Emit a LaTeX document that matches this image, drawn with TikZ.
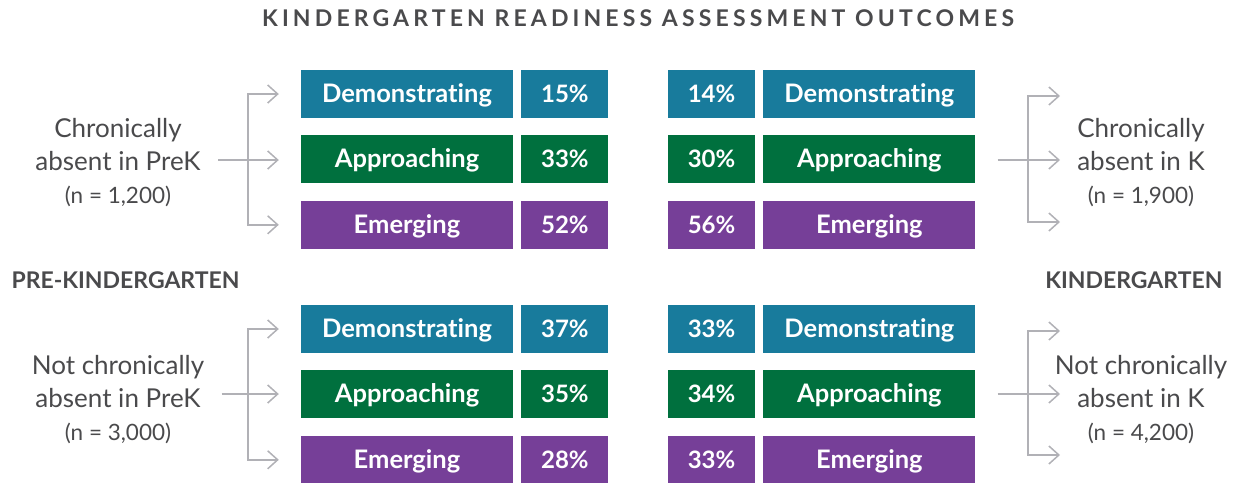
\documentclass[tikz,border=0pt]{standalone}
\usepackage{fontspec}
\setmainfont[Ligatures=NoCommon]{Lato}
\newfontfamily\spacedfont[LetterSpace=18]{Lato}
\usetikzlibrary{
        arrows.meta,
        positioning
    }
\definecolor{txtgrey}{HTML}{4A4A4C}
\definecolor{linegrey}{HTML}{B1B1B6}
\definecolor{demo}{HTML}{187B9C}
\definecolor{appr}{HTML}{00703E}
\definecolor{emer}{HTML}{763F98}
\newcommand{\nsize}{\fontsize{22.5}{33}\selectfont}
\tikzset{>={Straight Barb[length=10pt,width=18pt]}}
\tikzset{
    box/.style={minimum height=48pt, inner sep=0pt, text=white,
        text height=16.5pt, text depth=0pt},
    lbl/.style={box, minimum width=212pt, font=\fontsize{25.5}{25}\selectfont\bfseries},
    pct/.style={box, minimum width=87pt, font=\fontsize{24}{24}\selectfont\bfseries},
    group/.style={align=center, text=txtgrey,
        font=\fontsize{26}{33}\selectfont},
    side/.style={text=txtgrey, font=\fontsize{23}{23}\selectfont\bfseries},
    line/.style={draw=linegrey, line width=1.5pt},
    arr/.style={line, ->, shorten >=22pt}
}

\begin{document}
\begin{tikzpicture}[x=1pt,y=-1pt,node distance=17pt]
                \useasboundingbox (0,0) rectangle (1239,482);
                \node[text=txtgrey, font=\fontsize{23}{23}\selectfont\bfseries\spacedfont] (title) at (638,18)
                        {KINDERGARTEN READINESS ASSESSMENT OUTCOMES};
                % PreK, chronically absent
                \node[lbl, fill=demo] (pd1) at (407,94) {Demonstrating};
                \node[lbl, fill=appr] (pa1) [below=of pd1] {Approaching};
                \node[lbl, fill=emer] (pe1) [below=of pa1] {Emerging};
                \node[pct, fill=demo] (ppd1) [right=8pt of pd1] {15\%};
                \node[pct, fill=appr] (ppa1) [right=8pt of pa1] {33\%};
                \node[pct, fill=emer] (ppe1) [right=8pt of pe1] {52\%};
                % PreK, not chronically absent
                \node[lbl, fill=demo] (pd2) at (407,329) {Demonstrating};
                \node[lbl, fill=appr] (pa2) [below=of pd2] {Approaching};
                \node[lbl, fill=emer] (pe2) [below=of pa2] {Emerging};
                \node[pct, fill=demo] (ppd2) [right=8pt of pd2] {37\%};
                \node[pct, fill=appr] (ppa2) [right=8pt of pa2] {35\%};
                \node[pct, fill=emer] (ppe2) [right=8pt of pe2] {28\%};
                % K, chronically absent
                \node[pct, fill=demo] (kpd1) at (711.5,94) {14\%};
                \node[pct, fill=appr] (kpa1) [below=of kpd1] {30\%};
                \node[pct, fill=emer] (kpe1) [below=of kpa1] {56\%};
                \node[lbl, fill=demo] (kd1) [right=8pt of kpd1] {Demonstrating};
                \node[lbl, fill=appr] (ka1) [right=8pt of kpa1] {Approaching};
                \node[lbl, fill=emer] (ke1) [right=8pt of kpe1] {Emerging};
                % K, not chronically absent
                \node[pct, fill=demo] (kpd2) at (711.5,329) {33\%};
                \node[pct, fill=appr] (kpa2) [below=of kpd2] {34\%};
                \node[pct, fill=emer] (kpe2) [below=of kpa2] {33\%};
                \node[lbl, fill=demo] (kd2) [right=8pt of kpd2] {Demonstrating};
                \node[lbl, fill=appr] (ka2) [right=8pt of kpa2] {Approaching};
                \node[lbl, fill=emer] (ke2) [right=8pt of kpe2] {Emerging};
                % groups
                \node[group] (src1) at (118,163) {Chronically\\absent in PreK\\{\nsize(n = 1,200)}};
                \node[group] (src2) at (118,400) {Not chronically\\absent in PreK\\{\nsize(n = 3,000)}};
                \node[group] (dst1) at (1141,163) {Chronically\\absent in K\\{\nsize(n = 1,900)}};
                \node[group] (dst2) at (1141,400) {Not chronically\\absent in K\\{\nsize(n = 4,200)}};
                \node[side, anchor=west] (prek) at (8,280) {PRE-KINDERGARTEN};
                \node[side, anchor=east] (kind) at (1226,280) {KINDERGARTEN};
                % brackets
                \coordinate (jA) at (248,160);
                \coordinate (jC) at (248,394);
                \coordinate (jB) at (1028,160);
                \coordinate (jD) at (1028,394);
                \coordinate (tB1) at (1060,96);
                \coordinate (tB2) at (1060,160);
                \coordinate (tB3) at (1060,222);
                \coordinate (tD1) at (1060,331);
                \coordinate (tD2) at (1060,394);
                \coordinate (tD3) at (1060,455);
                \draw[line, shorten <=14pt] (src1.east |- jA) -- (jA);
                \draw[line, shorten <=14pt] (src2.east |- jC) -- (jC);
                \draw[line, shorten <=22pt] (ka1.east |- jB) -- (jB);
                \draw[line, shorten <=22pt] (ka2.east |- jD) -- (jD);
                \path
                        (jA) edge [arr, to path={|- (\tikztotarget)}] (pd1)
                        (jA) edge [arr] (jA -| pa1.west)
                        (jA) edge [arr, to path={|- (\tikztotarget)}] (pe1)
                        (jC) edge [arr, to path={|- (\tikztotarget)}] (pd2)
                        (jC) edge [arr] (jC -| pa2.west)
                        (jC) edge [arr, to path={|- (\tikztotarget)}] (pe2)
                        (jB) edge [line, ->, to path={|- (\tikztotarget)}] (tB1)
                        (jB) edge [line, ->] (tB2)
                        (jB) edge [line, ->, to path={|- (\tikztotarget)}] (tB3)
                        (jD) edge [line, ->, to path={|- (\tikztotarget)}] (tD1)
                        (jD) edge [line, ->] (tD2)
                        (jD) edge [line, ->, to path={|- (\tikztotarget)}] (tD3)
                ;
\end{tikzpicture}
\end{document}
